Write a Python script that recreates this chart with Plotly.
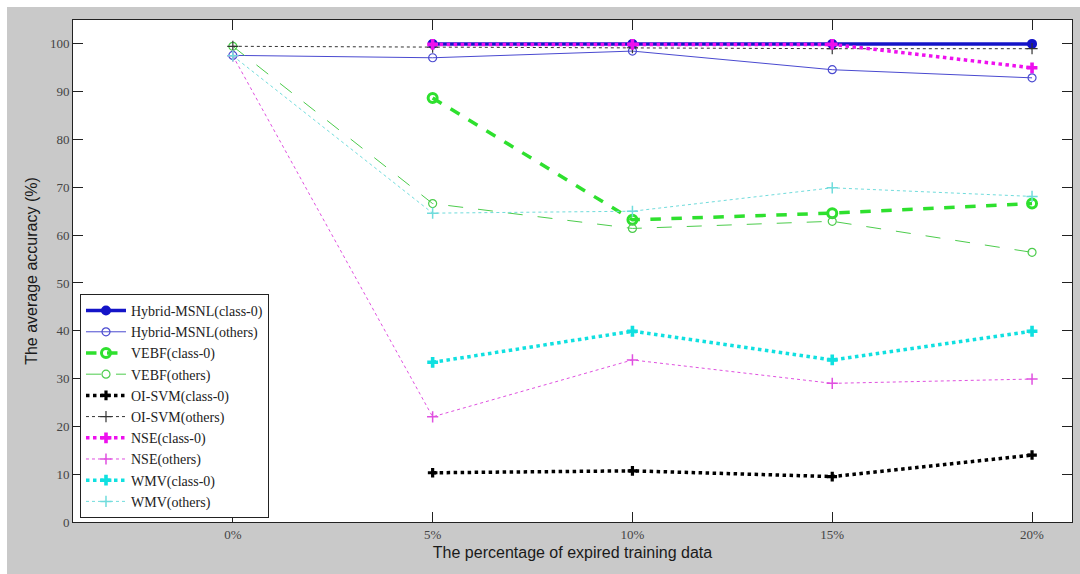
import plotly.graph_objects as go

x_vals = [0, 5, 10, 15, 20]
x_tick_text = ["0%", "5%", "10%", "15%", "20%"]
x_cls = [5, 10, 15, 20]

hybrid_cls0 = [100, 100, 100, 100]
hybrid_oth = [97.6, 97.1, 98.5, 94.6, 92.9]
vebf_cls0 = [88.7, 63.2, 64.6, 66.6]
vebf_oth = [99.5, 66.6, 61.4, 62.9, 56.4]
oisvm_cls0 = [10.3, 10.7, 9.5, 14.0]
oisvm_oth = [99.5, 99.3, 99.2, 99.0, 99.0]
nse_cls0 = [99.9, 99.9, 99.9, 95.0]
nse_oth = [97.5, 22.0, 33.9, 29.0, 29.9]
wmv_cls0 = [33.4, 39.9, 33.9, 39.9]
wmv_oth = [97.5, 64.6, 65.0, 69.9, 68.1]

y_ticks = [0, 10, 20, 30, 40, 50, 60, 70, 80, 90, 100]

fig = go.Figure()

def add(name, xs, ys, color, width, dash, symbol, msize, mlw, mcolor=None):
    fig.add_trace(go.Scatter(
        x=xs, y=ys, name=name, mode="lines+markers",
        line=dict(color=color, width=width, dash=dash),
        marker=dict(symbol=symbol, size=msize,
                    color=mcolor if mcolor else color,
                    line=dict(color=color, width=mlw)),
    ))

add("Hybrid-MSNL(class-0)", x_cls, hybrid_cls0, "#1414c8", 3.5, "solid", "circle", 8, 2)
add("Hybrid-MSNL(others)", x_vals, hybrid_oth, "#4a4ad0", 1, "solid", "circle-open", 8, 1.2)
add("VEBF(class-0)", x_cls, vebf_cls0, "#2ee02e", 3.5, "dash", "circle-open", 9, 3)
add("VEBF(others)", x_vals, vebf_oth, "#4ccc4c", 1, "longdash", "circle-open", 8, 1.2)
add("OI-SVM(class-0)", x_cls, oisvm_cls0, "#000000", 3.5, "dot", "cross", 8, 0)
add("OI-SVM(others)", x_vals, oisvm_oth, "#333333", 1, "3px,3px", "cross-thin-open", 8, 1.2)
add("NSE(class-0)", x_cls, nse_cls0, "#ee10ee", 3.5, "dot", "cross", 9, 0)
add("NSE(others)", x_vals, nse_oth, "#e050e0", 1, "3px,3px", "cross-thin-open", 8, 1.5)
add("WMV(class-0)", x_cls, wmv_cls0, "#10e0e0", 3.5, "dot", "cross", 9, 0)
add("WMV(others)", x_vals, wmv_oth, "#70dcdc", 1, "dot", "cross-thin-open", 8, 1.5)

axis_common = dict(
    showline=True, linecolor="#222222", linewidth=1, mirror="ticks",
    ticks="inside", ticklen=10, tickcolor="#222222", tickwidth=1,
    showgrid=False, zeroline=False,
    tickfont=dict(family="Liberation Serif", size=13, color="#444444"),
)

fig.update_layout(
    width=1080, height=574,
    margin=dict(l=73, r=8, t=20, b=52),
    paper_bgcolor="#c9c9c9",
    plot_bgcolor="#ffffff",
    xaxis=dict(range=[-4, 21], tickvals=x_vals, ticktext=x_tick_text,
               title=dict(text="The percentage of expired training data",
                          font=dict(family="Liberation Sans", size=16, color="#1a1a1a"),
                          standoff=6),
               **axis_common),
    yaxis=dict(range=[0, 105], tickvals=y_ticks,
               title=dict(text="The average accuracy (%)",
                          font=dict(family="Liberation Sans", size=16, color="#1a1a1a"),
                          standoff=8),
               **axis_common),
    legend=dict(x=0.007, y=0.008, xanchor="left", yanchor="bottom",
                bgcolor="#ffffff", bordercolor="#222222", borderwidth=1,
                font=dict(family="Liberation Serif", size=14, color="#222222"),
                tracegroupgap=0, itemwidth=40),
    showlegend=True,
    shapes=[
        dict(type="rect", xref="paper", yref="paper",
             x0=-73/999, x1=(1080-73)/999, y0=1 + 13/502, y1=1 + 20/502,
             fillcolor="#ffffff", line=dict(width=0), layer="below"),
        dict(type="rect", xref="paper", yref="paper",
             x0=-73/999, x1=-66/999, y0=-52/502, y1=1 + 20/502,
             fillcolor="#ffffff", line=dict(width=0), layer="below"),
    ],
)

fig.write_html("out.html")
